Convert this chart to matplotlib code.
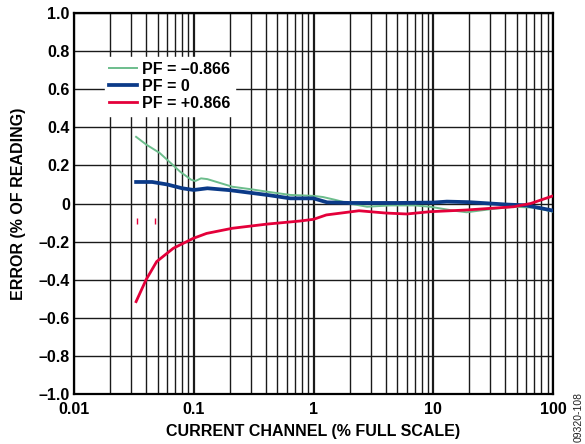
import matplotlib
matplotlib.use("Agg")
import matplotlib.pyplot as plt
from matplotlib.ticker import FixedLocator, NullFormatter, LogLocator

plt.rcParams['font.family'] = ['Liberation Sans', 'DejaVu Sans']

# Data (current channel % full scale, error % of reading)
x_neg = [0.033, 0.04, 0.052, 0.077, 0.095, 0.103, 0.115, 0.13, 0.21, 0.3, 0.41, 0.64, 1.0, 1.2, 1.5, 2.0, 2.8, 4.4, 7.0, 9.4, 15, 19, 30, 47, 70, 100]
y_neg = [0.35, 0.31, 0.265, 0.167, 0.125, 0.118, 0.132, 0.128, 0.088, 0.075, 0.062, 0.045, 0.04, 0.034, 0.02, 0.0, -0.017, -0.01, -0.01, -0.017, -0.038, -0.046, -0.03, -0.017, -0.022, -0.043]

x_zero = [0.033, 0.045, 0.06, 0.08, 0.1, 0.13, 0.2, 0.41, 0.64, 1.0, 1.3, 2.0, 5.0, 10, 13, 20, 40, 60, 100]
y_zero = [0.113, 0.113, 0.1, 0.08, 0.071, 0.08, 0.07, 0.045, 0.027, 0.027, 0.006, 0.003, 0.003, 0.005, 0.01, 0.007, -0.005, -0.01, -0.037]

x_pos = [0.033, 0.04, 0.049, 0.0675, 0.099, 0.128, 0.21, 0.41, 0.77, 1.0, 1.28, 2.4, 4.0, 6.0, 9.4, 19, 47, 65, 100]
y_pos = [-0.515, -0.40, -0.305, -0.235, -0.183, -0.157, -0.13, -0.108, -0.092, -0.083, -0.06, -0.038, -0.05, -0.055, -0.043, -0.034, -0.017, 0.0, 0.04]

# small red marks appearing in the original figure
x_marks = [0.0335, 0.0475]
y_marks = [-0.092, -0.092]

labels = ["PF = \u20130.866", "PF = 0", "PF = +0.866"]
xticks = [0.01, 0.1, 1, 10, 100]
xticklabels = ["0.01", "0.1", "1", "10", "100"]
yticks = [-1.0, -0.8, -0.6, -0.4, -0.2, 0, 0.2, 0.4, 0.6, 0.8, 1.0]
yticklabels = ["\u20131.0", "\u20130.8", "\u20130.6", "\u20130.4", "\u20130.2", "0", "0.2", "0.4", "0.6", "0.8", "1.0"]

FS = 11.5

fig = plt.figure(figsize=(5.85, 4.44), dpi=100)
ax = fig.add_axes([0.1265, 0.1126, 0.8188, 0.8581])
ax.set_xscale('log')
ax.set_xlim(0.01, 100)
ax.set_ylim(-1.0, 1.0)

grid_c = '#1a1a1a'
ax.xaxis.set_major_locator(FixedLocator(xticks))
ax.xaxis.set_minor_locator(LogLocator(base=10, subs=range(2, 10), numticks=20))
ax.xaxis.set_minor_formatter(NullFormatter())
ax.set_xticks(xticks)
ax.set_xticklabels(xticklabels)
ax.set_yticks(yticks)
ax.set_yticklabels(yticklabels)
ax.grid(True, which='major', axis='x', color=grid_c, lw=1.6)
ax.grid(True, which='minor', axis='x', color=grid_c, lw=1.0)
ax.grid(True, which='major', axis='y', color=grid_c, lw=1.0)
ax.set_axisbelow(True)
ax.tick_params(which='both', length=0, labelsize=FS)
ax.tick_params(axis='x', pad=6)
ax.tick_params(axis='y', pad=3)
for lab in ax.get_xticklabels() + ax.get_yticklabels():
    lab.set_fontweight('bold')
for s in ax.spines.values():
    s.set_color('black')
    s.set_linewidth(1.6)

l1, = ax.plot(x_neg, y_neg, color='#6cbd8c', lw=1.4, zorder=3)
l2, = ax.plot(x_zero, y_zero, color='#0b3a88', lw=2.7, zorder=4)
l3, = ax.plot(x_pos, y_pos, color='#e4003a', lw=2.0, zorder=5)
ax.plot(x_marks, y_marks, ls='none', marker='|', ms=4, mew=1.0, color='#e4003a', zorder=3)

leg = ax.legend([l1, l2, l3], labels, loc='upper left', bbox_to_anchor=(0.064, 0.884),
                frameon=True, fancybox=False, framealpha=1, edgecolor='white',
                facecolor='white', borderpad=0.3, handlelength=1.7, handletextpad=0.35,
                labelspacing=0.12, borderaxespad=0,
                prop={'weight': 'bold', 'size': FS})
leg.set_zorder(6)

ax.set_xlabel("CURRENT CHANNEL (% FULL SCALE)", fontsize=FS, fontweight='bold', labelpad=5)
ax.set_ylabel("ERROR (% OF READING)", fontsize=FS, fontweight='bold', labelpad=9)
fig.text(0.989, 0.06, "09320-108", rotation=90, fontsize=7.5, ha='center', va='center', color='#222')

fig.savefig("out.png", dpi=100)
